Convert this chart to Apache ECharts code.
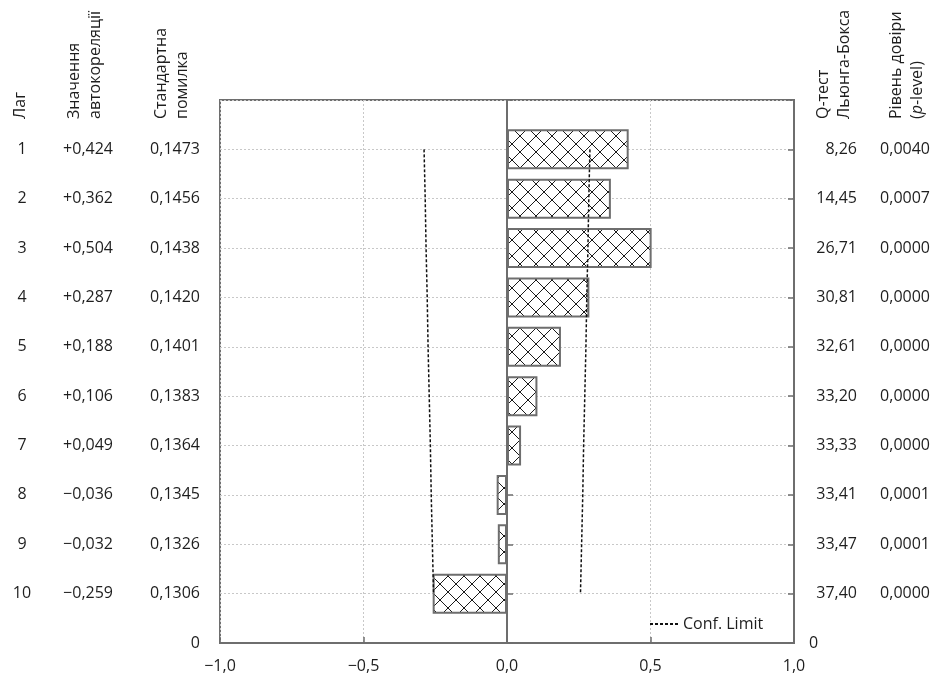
<!DOCTYPE html>
<html>
<head>
<meta charset="utf-8">
<script src="https://cdn.jsdelivr.net/npm/echarts@6/dist/echarts.min.js"></script>
<style>
html,body{margin:0;padding:0;background:#fff;}
#chart{width:933px;height:679px;}
</style>
</head>
<body>
<div id="chart"></div>
<script>
// ---- data ----
const lags = [1, 2, 3, 4, 5, 6, 7, 8, 9, 10];
const acf = [0.424, 0.362, 0.504, 0.287, 0.188, 0.106, 0.049, -0.036, -0.032, -0.259];
const stdErr = [0.1473, 0.1456, 0.1438, 0.1420, 0.1401, 0.1383, 0.1364, 0.1345, 0.1326, 0.1306];
const qStat = [8.26, 14.45, 26.71, 30.81, 32.61, 33.20, 33.33, 33.41, 33.47, 37.40];
const pLevel = [0.0040, 0.0007, 0.0000, 0.0000, 0.0000, 0.0000, 0.0000, 0.0001, 0.0001, 0.0000];
const confLimit = [0.289, 0.285, 0.282, 0.278, 0.275, 0.271, 0.267, 0.264, 0.260, 0.256];
const xTickLabels = ['−1,0', '−0,5', '0,0', '0,5', '1,0'];
const headersLeft = ['Лаг', 'Значення\nавтокореляції', 'Стандартна\nпомилка'];
const headersRight = ['Q-тест\nЛьюнга-Бокса', 'Рівень довіри\n({i|p}-level)'];
const legendName = 'Conf. Limit';

// ---- helpers ----
const FONT = 'Open Sans';
const fmt = (v, d) => (v < 0 ? '−' : '') + Math.abs(v).toFixed(d).replace('.', ',');
const fmtSigned = (v, d) => (v < 0 ? '−' : '+') + Math.abs(v).toFixed(d).replace('.', ',');

// categories bottom -> top: '0', 10, 9, ..., 1, top
const cats = ['0'].concat(lags.slice().reverse().map(String)).concat(['top']);

function lagIndex(cat) { return lags.indexOf(Number(cat)); }

// cross-hatch pattern
const pc = document.createElement('canvas');
const P = 16;
pc.width = P; pc.height = P;
const g = pc.getContext('2d');
g.fillStyle = '#ffffff';
g.fillRect(0, 0, P, P);
g.strokeStyle = '#1a1a1a';
g.lineWidth = 1;
g.beginPath();
g.moveTo(-2, -2); g.lineTo(P + 2, P + 2);
g.moveTo(P + 2, -2); g.lineTo(-2, P + 2);
g.stroke();

const chart = echarts.init(document.getElementById('chart'), null, {renderer: 'canvas'});

const axisGray = '#6e6e6e';
const gridGray = '#c8c8c8';
const textColor = '#1e1e1e';

const headerStyle = {fontFamily: FONT, fontSize: 16, fill: textColor, lineHeight: 21};
const headerX = [10, 64, 151];
const headerXR = [813, 886];

const graphics = [];
headersLeft.forEach((t, i) => {
  graphics.push({type: 'text', x: headerX[i], y: 119, rotation: Math.PI / 2,
    style: Object.assign({text: t, align: 'left', verticalAlign: 'top'}, headerStyle)});
});
headersRight.forEach((t, i) => {
  graphics.push({type: 'text', x: headerXR[i], y: 119, rotation: Math.PI / 2,
    style: Object.assign({text: t, align: 'left', verticalAlign: 'top',
      rich: {i: {fontStyle: 'italic', fontFamily: FONT, fontSize: 16, fill: textColor, lineHeight: 21}}}, headerStyle)});
});

const option = {
  animation: false,
  backgroundColor: '#ffffff',
  textStyle: {fontFamily: FONT},
  grid: {left: 220, right: 139, top: 100, bottom: 36, show: true, borderColor: axisGray, borderWidth: 2, containLabel: false},
  legend: {
    data: [legendName], left: 644, top: 611, itemWidth: 28, itemHeight: 14, itemGap: 6,
    itemStyle: {opacity: 0},
    textStyle: {fontFamily: FONT, fontSize: 16, color: textColor},
    selectedMode: false
  },
  xAxis: {
    type: 'value', min: -1, max: 1, interval: 0.5,
    axisLine: {show: true, onZero: false, lineStyle: {color: axisGray, width: 2}},
    axisTick: {show: true, inside: true, length: 6, lineStyle: {color: axisGray, width: 1.5}},
    axisLabel: {margin: 15, fontFamily: FONT, fontSize: 16, color: textColor,
      formatter: (v) => xTickLabels[Math.round((v + 1) / 0.5)]},
    splitLine: {show: true, lineStyle: {color: gridGray, type: [2, 2], width: 1}}
  },
  yAxis: [
    {
      type: 'category', data: cats, boundaryGap: false, position: 'left',
      axisLine: {show: true, lineStyle: {color: axisGray, width: 2}},
      axisTick: {show: true, inside: true, length: 6, interval: 0, lineStyle: {color: axisGray, width: 1.5}},
      splitLine: {show: true, interval: 0, lineStyle: {color: gridGray, type: [2, 2], width: 1}},
      axisLabel: {
        interval: 0, margin: 20, align: 'right',
        formatter: (v) => {
          if (v === '0') return '{z|0}';
          if (v === 'top') return '';
          const i = lagIndex(v);
          return '{lag|' + lags[i] + '}{acf|' + fmtSigned(acf[i], 3) + '}{se|' + fmt(stdErr[i], 4) + '}';
        },
        rich: {
          z: {fontFamily: FONT, fontSize: 16, color: textColor, align: 'right'},
          lag: {fontFamily: FONT, fontSize: 16, color: textColor, width: 40, align: 'center'},
          acf: {fontFamily: FONT, fontSize: 16, color: textColor, width: 71, align: 'right'},
          se: {fontFamily: FONT, fontSize: 16, color: textColor, width: 87, align: 'right'}
        }
      }
    },
    {
      type: 'category', data: cats, boundaryGap: false, position: 'right',
      axisLine: {show: true, lineStyle: {color: axisGray, width: 2}},
      axisTick: {show: true, inside: true, length: 6, interval: 0, lineStyle: {color: axisGray, width: 1.5}},
      splitLine: {show: false},
      axisLabel: {
        interval: 0, margin: 15, align: 'left',
        formatter: (v) => {
          if (v === '0') return '{z|0}';
          if (v === 'top') return '';
          const i = lagIndex(v);
          return '{q|' + fmt(qStat[i], 2) + '}{p|' + fmt(pLevel[i], 4) + '}';
        },
        rich: {
          z: {fontFamily: FONT, fontSize: 16, color: textColor, align: 'left'},
          q: {fontFamily: FONT, fontSize: 16, color: textColor, width: 48, align: 'right'},
          p: {fontFamily: FONT, fontSize: 16, color: textColor, width: 73, align: 'right'}
        }
      }
    }
  ],
  series: [
    {
      type: 'bar', name: 'ACF', yAxisIndex: 0, barWidth: 40,
      data: lags.map((l, i) => [acf[i], String(l)]),
      itemStyle: {color: {image: pc, repeat: 'repeat'}, borderColor: axisGray, borderWidth: 2},
      markLine: {
        silent: true, symbol: 'none', label: {show: false},
        lineStyle: {color: axisGray, type: 'solid', width: 1.5},
        data: [{xAxis: 0}]
      },
      z: 3
    },
    {
      type: 'line', name: legendName, yAxisIndex: 0, symbol: 'none', showSymbol: false,
      itemStyle: {color: '#111'},
      data: lags.map((l, i) => [confLimit[i], String(l)]),
      lineStyle: {color: '#111', type: [3, 2], width: 1.5}, z: 4
    },
    {
      type: 'line', name: legendName, yAxisIndex: 0, symbol: 'none', showSymbol: false,
      itemStyle: {color: '#111'},
      data: lags.map((l, i) => [-confLimit[i], String(l)]),
      lineStyle: {color: '#111', type: [3, 2], width: 1.5}, z: 4
    }
  ],
  graphic: graphics
};
chart.setOption(option);
</script>
</body>
</html>
